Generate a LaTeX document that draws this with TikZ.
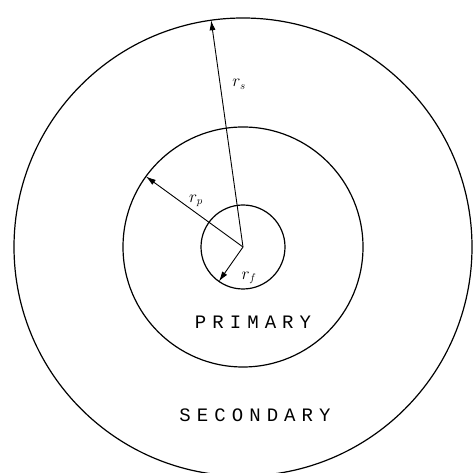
\documentclass[tikz,border=0pt]{standalone}
\usepackage{fontspec}
\setmonofont{Liberation Mono}
\usetikzlibrary{arrows.meta}
\tikzset{
    ring/.style={circle,draw=black,line width=1.2pt,inner sep=0pt,outer sep=0pt},
    radarrow/.style={line width=0.9pt,draw=black,-{Latex[length=10pt,width=6pt]}},
    zonelabel/.style={font=\ttfamily\fontsize{19}{19}\selectfont\addfontfeature{LetterSpace=32}},
    radlabel/.style={font=\fontsize{16}{16}\selectfont}
}
\begin{document}
\begin{tikzpicture}[x=1pt,y=1pt]
  \useasboundingbox (0,0) rectangle (473,473);
  \clip (0,0) rectangle (473,473);
  \coordinate (c) at (243,226);

  % rings
  \node[ring,minimum size=458pt] (outer) at (c) {};
  \node[ring,minimum size=240pt] (middle) at (c) {};
  \node[ring,minimum size=84pt] (inner) at (c) {};

  % radii
  \draw[radarrow] (c) -- (outer.98.7);
  \draw[radarrow] (c) -- (middle.144.5);
  \draw[radarrow] (c) -- (inner.235);

  \node[radlabel] (rs) at (239,389) {$r_s$};
  \node[radlabel] (rp) at (196,272) {$r_p$};
  \node[radlabel] (rf) at (249,195) {$r_f$};

  % regions
  \node[zonelabel] (primary) at (253,151) {PRIMARY};
  \node[zonelabel] (secondary) at (255,58) {SECONDARY};
\end{tikzpicture}
\end{document}
